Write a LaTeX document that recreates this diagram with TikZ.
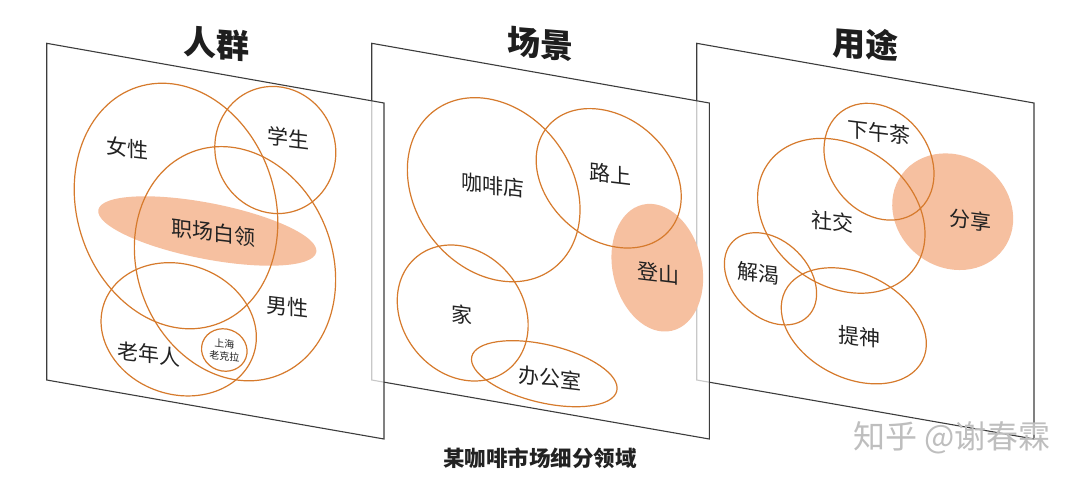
\documentclass[tikz,border=0pt]{standalone}
\usepackage{fontspec}
\setmainfont{Noto Sans CJK SC}
\definecolor{panelgray}{RGB}{60,60,60}
\definecolor{ringc}{RGB}{214,122,44}
\definecolor{blobc}{RGB}{246,192,160}
\definecolor{labc}{RGB}{34,34,34}
\definecolor{titc}{RGB}{30,30,30}
\definecolor{wmc}{RGB}{190,190,190}
\begin{document}
\begin{tikzpicture}[x=1pt,y=1pt,
  panel/.style={draw=panelgray, line width=1.1pt, fill=white, fill opacity=0.72},
  ring/.style={draw=ringc, line width=1.2pt},
  blob/.style={fill=blobc},
  lab/.style={font=\fontsize{21}{21}\selectfont, text=labc, yslant=-0.12, inner sep=0pt},
  small/.style={font=\fontsize{10}{12}\selectfont, text=labc, yslant=-0.12, inner sep=0pt, align=center},
  ttl/.style={font=\bfseries\fontsize{33}{33}\selectfont, text=titc, yslant=-0.08, inner sep=0pt}]
\useasboundingbox (0,0) rectangle (1080,-483);
\fill[white] (0,0) rectangle (1080,-483);

% ---------- panel 3 : 用途 ----------
\path[panel] (696.7,-43.3) -- (1034,-103) -- (1034,-439) -- (696.7,-380) -- cycle;
\fill[blob, rotate around={-36.5:(952.7,-211.7)}] (952.7,-211.7) ellipse [x radius=63, y radius=55.6];
\draw[ring, rotate around={-53:(879,-161.7)}] (879,-161.7) ellipse [x radius=62.6, y radius=50.2];
\draw[ring, rotate around={-35.8:(841.3,-215.8)}] (841.3,-215.8) ellipse [x radius=90, y radius=70];
\draw[ring, rotate around={-45:(770.5,-278.8)}] (770.5,-278.8) ellipse [x radius=53, y radius=38];
\draw[ring, rotate around={-27:(853.8,-325.8)}] (853.8,-325.8) ellipse [x radius=77, y radius=52];
\node[lab] (xwc) at (879.2,-132.5) {下午茶};
\node[lab] (sj) at (832.5,-221.7) {社交};
\node[lab] (fx) at (970,-220) {分享};
\node[lab] (jk) at (758.3,-273.3) {解渴};
\node[lab] (ts) at (859.2,-336.7) {提神};
\node[ttl] (t3) at (865,-44) {用途};

% ---------- panel 2 : 场景 ----------
\path[panel] (371.7,-43.3) -- (709.3,-103) -- (709.3,-439) -- (371.7,-380) -- cycle;
\fill[blob, rotate around={13:(657.3,-267.7)}] (657.3,-267.7) ellipse [x radius=44.6, y radius=64.7];
\draw[ring, rotate around={-53.2:(493.7,-189.7)}] (493.7,-189.7) ellipse [x radius=98.8, y radius=78.5];
\draw[ring, rotate around={-40.7:(608.7,-178.3)}] (608.7,-178.3) ellipse [x radius=80, y radius=61];
\draw[ring, rotate around={-51:(462.7,-313)}] (462.7,-313) ellipse [x radius=72.6, y radius=60.3];
\draw[ring, rotate around={-13.3:(544.3,-373.7)}] (544.3,-373.7) ellipse [x radius=74.5, y radius=29];
\node[lab] (kfd) at (492.5,-185.8) {咖啡店};
\node[lab] (ls) at (610,-174) {路上};
\node[lab] (ds) at (658.3,-273.3) {登山};
\node[lab] (jia) at (461.7,-315) {家};
\node[lab] (bgs) at (550,-378) {办公室};
\node[ttl] (t2) at (540,-44) {场景};

% ---------- panel 1 : 人群 ----------
\path[panel] (46.7,-43.3) -- (384,-103) -- (384,-439) -- (46.7,-380) -- cycle;
\fill[blob, rotate around={-11:(207.3,-231)}] (207.3,-231) ellipse [x radius=111, y radius=28];
\draw[ring, rotate around={18:(176,-206)}] (176,-206) ellipse [x radius=99, y radius=125];
\draw[ring, rotate around={20:(275.3,-150)}] (275.3,-150) ellipse [x radius=60, y radius=64];
\draw[ring, rotate around={21:(235,-263.7)}] (235,-263.7) ellipse [x radius=97.5, y radius=119.7];
\draw[ring, rotate around={-19:(178.7,-329.3)}] (178.7,-329.3) ellipse [x radius=79, y radius=65];
\draw[ring, rotate around={-20:(224.3,-350)}] (224.3,-350) ellipse [x radius=23, y radius=21];
\node[lab] (nx) at (127.5,-148.3) {女性};
\node[lab] (xs) at (288,-138.3) {学生};
\node[lab] (zc) at (213.3,-232.5) {职场白领};
\node[lab] (mx) at (287.5,-306.7) {男性};
\node[lab] (lnr) at (148.7,-354) {老年人};
\node[small] (shl) at (224.3,-350) {上海\\老克拉};
\node[ttl] (t1) at (216.7,-44) {人群};

% ---------- caption & watermark ----------
\node[font=\bfseries\fontsize{21.5}{21.5}\selectfont, text=labc, inner sep=0pt] (cap) at (540,-458) {某咖啡市场细分领域};
\node[font=\fontsize{32}{32}\selectfont, text=wmc, inner sep=0pt] (wm) at (952,-438) {知乎 @谢春霖};
\end{tikzpicture}
\end{document}
